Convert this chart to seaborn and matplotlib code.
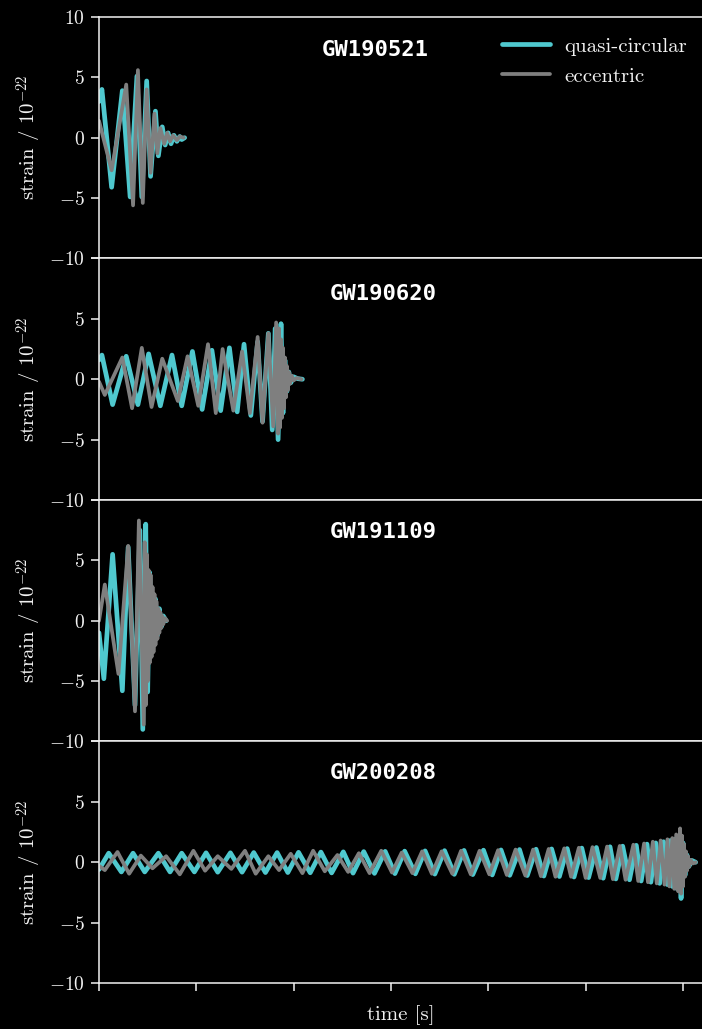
import matplotlib
matplotlib.use("Agg")
import matplotlib.pyplot as plt
import seaborn as sns
import pandas as pd

# ---------------------------------------------------------------------------
# Waveform extrema (time in ms, strain in units of 1e-22)
# ---------------------------------------------------------------------------
events = ["GW190521", "GW190620", "GW191109", "GW200208"]

gw190521_qc_t_ms = [0, 3, 13, 24, 32, 39, 44, 49, 53, 58, 61, 65, 68, 71, 74, 77, 80, 83, 85, 88]
gw190521_qc_h = [3.0, 4.0, -4.1, 3.9, -4.9, 5.1, -4.9, 4.7, -3.2, 2.2, -1.5, 0.9, -0.6, 0.4,
                 -0.5, 0.2, -0.3, 0.1, -0.15, 0.0]
gw190521_ecc_t_ms = [0, 13, 28, 35, 40, 45, 49, 53, 57, 60, 63, 67, 70, 73, 76, 80, 83, 87]
gw190521_ecc_h = [1.4, -2.7, 4.4, -5.6, 5.6, -5.4, 4.0, -2.9, 2.0, -1.3, 0.8, -0.5, 0.4, -0.3,
                  0.2, -0.2, 0.1, 0.0]

gw190620_qc_t_ms = [0, 3, 14, 28, 40, 51, 63, 75, 85, 96, 106, 116, 125, 134, 142, 149, 156,
                    163, 168, 174, 178, 181, 184, 187, 189, 191, 193, 195, 197, 200, 204, 209]
gw190620_qc_h = [1.6, 2.0, -2.1, 1.9, -2.1, 2.1, -2.2, 2.0, -2.2, 2.3, -2.5, 2.4, -2.6, 2.6,
                 -2.7, 2.9, -3.0, 3.1, -3.5, 3.8, -4.2, 4.2, -5.0, 4.6, -2.8, 1.6, -1.0, 0.6,
                 -0.3, 0.2, 0.05, 0.0]
gw190620_ecc_t_ms = [0, 6, 24, 34, 44, 54, 65, 81, 91, 102, 112, 120, 127, 138, 147, 155, 163,
                     168, 174, 179, 182, 184, 185, 186, 187, 188, 189, 190, 191, 192, 193, 194,
                     195, 196, 198, 200, 203, 208]
gw190620_ecc_h = [-0.2, -1.3, 1.8, -2.4, 2.6, -2.3, 1.7, -1.8, 1.9, -2.2, 2.9, -2.8, 2.5, -2.6,
                  2.3, -2.8, 3.5, -3.6, 3.8, -3.9, 4.7, -4.5, 4.2, -4.0, 3.3, -3.2, 2.6, -2.4,
                  1.8, -1.5, 1.1, -0.9, 0.6, -0.4, 0.3, -0.1, 0.1, 0.0]

gw191109_qc_t_ms = [0, 5, 14, 24, 30, 37, 42, 45, 48, 50, 52, 55, 58, 60, 62, 64, 66, 69]
gw191109_qc_h = [-1.0, -4.8, 5.5, -5.8, 6.1, -7.0, 7.5, -9.0, 8.0, -5.9, 4.0, -2.5, 1.8, -1.2,
                 1.0, -0.5, 0.4, 0.0]
gw191109_ecc_t_ms = [0, 6, 20, 30, 37, 41, 46, 47, 48, 49, 50, 51, 52, 53, 54, 55, 56, 57, 58,
                     59, 60, 61, 62, 63, 64, 65, 66, 68, 70]
gw191109_ecc_h = [0.0, 3.0, -4.4, 6.2, -7.5, 8.3, -8.6, 6.5, -7.0, 5.5, -5.0, 4.2, -3.5, 3.8,
                  -3.0, 2.8, -2.6, 2.2, -2.0, 1.6, -1.5, 1.0, -1.0, 0.7, -0.6, 0.4, -0.3, 0.2,
                  0.0]

gw200208_qc_t_ms = [0, 10, 23, 35, 47, 61, 73, 85, 98, 110, 122, 135, 147, 159, 171, 183, 194,
                    205, 217, 228, 239, 251, 261, 272, 283, 294, 304, 314, 325, 335, 345, 355,
                    365, 375, 384, 395, 404, 413, 422, 432, 440, 449, 457, 465, 473, 481, 488,
                    496, 503, 511, 518, 525, 531, 538, 545, 552, 557, 563, 567, 572, 576, 580,
                    584, 587, 589, 592, 594, 596, 598, 600, 602, 604, 606, 609, 613]
gw200208_qc_h = [-0.6, 0.75, -0.8, 0.75, -0.8, 0.75, -0.8, 0.75, -0.8, 0.78, -0.82, 0.78,
                 -0.82, 0.8, -0.85, 0.8, -0.85, 0.82, -0.87, 0.84, -0.88, 0.86, -0.9, 0.88,
                 -0.92, 0.9, -0.94, 0.92, -0.96, 0.94, -0.98, 0.96, -1.0, 0.98, -1.02, 1.0,
                 -1.05, 1.02, -1.08, 1.05, -1.1, 1.08, -1.14, 1.1, -1.18, 1.13, -1.22, 1.17,
                 -1.27, 1.22, -1.32, 1.28, -1.38, 1.33, -1.45, 1.4, -1.55, 1.5, -1.65, 1.6,
                 -1.75, 1.7, -1.85, 1.8, -2.0, 1.9, -2.2, 2.0, -3.0, 1.6, -1.1, 0.6, -0.35,
                 0.15, 0.0]
gw200208_ecc_t_ms = [0, 6, 19, 31, 43, 55, 69, 83, 97, 109, 122, 136, 150, 161, 174, 185, 197,
                     209, 220, 232, 245, 256, 267, 278, 290, 301, 311, 322, 332, 342, 352, 363,
                     372, 382, 391, 401, 410, 419, 428, 438, 446, 454, 462, 469, 478, 485, 493,
                     500, 507, 515, 522, 528, 535, 541, 549, 554, 560, 564, 569, 573, 577, 581,
                     584, 586, 589, 591, 593, 595, 597, 598, 599, 600, 601, 602, 603, 604, 605,
                     606, 608, 610, 613]
gw200208_ecc_h = [-0.3, -0.65, 0.85, -0.95, 0.55, -0.5, 0.5, -1.0, 0.95, -0.7, 0.5, -0.55,
                  0.95, -0.95, 0.5, -0.65, 0.7, -0.9, 0.95, -0.75, 0.6, -0.8, 0.75, -0.9, 0.95,
                  -0.85, 0.8, -0.9, 0.9, -0.95, 0.9, -0.95, 0.95, -1.0, 0.95, -1.0, 1.0, -1.05,
                  1.05, -1.1, 1.05, -1.15, 1.1, -1.2, 1.15, -1.2, 1.2, -1.3, 1.25, -1.3, 1.3,
                  -1.4, 1.35, -1.45, 1.45, -1.55, 1.55, -1.65, 1.7, -1.75, 1.8, -1.85, 1.9,
                  -2.0, 2.0, -2.2, 2.3, -2.4, 2.8, -2.6, 2.2, -2.0, 1.5, -1.2, 0.9, -0.7, 0.5,
                  -0.4, 0.2, -0.1, 0.0]

waveforms = {
    "GW190521": ((gw190521_qc_t_ms, gw190521_qc_h), (gw190521_ecc_t_ms, gw190521_ecc_h)),
    "GW190620": ((gw190620_qc_t_ms, gw190620_qc_h), (gw190620_ecc_t_ms, gw190620_ecc_h)),
    "GW191109": ((gw191109_qc_t_ms, gw191109_qc_h), (gw191109_ecc_t_ms, gw191109_ecc_h)),
    "GW200208": ((gw200208_qc_t_ms, gw200208_qc_h), (gw200208_ecc_t_ms, gw200208_ecc_h)),
}

y_ticks = [-10, -5, 0, 5, 10]
y_tick_labels = ["$-10$", "$-5$", "$0$", "$5$", "$10$"]
x_ticks = [0.0, 0.1, 0.2, 0.3, 0.4, 0.5, 0.6]
series_labels = ["quasi-circular", "eccentric"]

# ---------------------------------------------------------------------------
# Style
# ---------------------------------------------------------------------------
sns.set_theme(style="dark")
fg = "#f2f2f2"
plt.rcParams.update({
    "figure.facecolor": "black",
    "axes.facecolor": "black",
    "savefig.facecolor": "black",
    "axes.edgecolor": fg,
    "axes.labelcolor": fg,
    "text.color": fg,
    "xtick.color": fg,
    "ytick.color": fg,
    "axes.grid": False,
    "mathtext.fontset": "cm",
    "axes.unicode_minus": True,
})
plt.rcParams["font.family"] = ["cmr10", "DejaVu Serif"]

qc_color = "#4fc8ce"
ecc_color = "#7f7f7f"

fig, axes = plt.subplots(4, 1, figsize=(7.02, 10.29), dpi=100, sharex=True,
                         gridspec_kw=dict(hspace=0))
fig.subplots_adjust(left=0.141, right=1.0, top=0.9835, bottom=0.0447)

title_pos = {"GW190521": (0.4585, 0.863), "GW190620": (0.471, 0.855),
             "GW191109": (0.471, 0.868), "GW200208": (0.471, 0.868)}

for i, (ax, name) in enumerate(zip(axes, events)):
    (qt, qh), (et, eh) = waveforms[name]
    qc = pd.DataFrame({"t": [v / 1e3 for v in qt], "h": qh})
    ecc = pd.DataFrame({"t": [v / 1e3 for v in et], "h": eh})
    sns.lineplot(data=qc, x="t", y="h", ax=ax, color=qc_color, lw=3.4, sort=False,
                 estimator=None, label=series_labels[0], solid_joinstyle="round")
    sns.lineplot(data=ecc, x="t", y="h", ax=ax, color=ecc_color, lw=2.7, sort=False,
                 estimator=None, label=series_labels[1], solid_joinstyle="round")

    ax.set_ylim(-10, 10)
    ax.set_xlim(0, 0.6195)
    ax.set_yticks(y_ticks)
    labels = list(y_tick_labels)
    if i > 0:
        labels[-1] = ""
    ax.set_yticklabels(labels, fontsize=14)
    ax.set_xticks(x_ticks)
    ax.tick_params(axis="y", direction="out", length=6, width=1.1, left=True, pad=4)
    ax.tick_params(axis="x", direction="out", length=6, width=1.1, labelbottom=False,
                   bottom=(i == 3))
    for side in ("left", "bottom", "top"):
        ax.spines[side].set_visible(True)
        ax.spines[side].set_color(fg)
        ax.spines[side].set_linewidth(1.1)
    ax.spines["right"].set_visible(False)

    ax.set_ylabel(r"strain / $10^{-22}$", fontsize=15)
    ax.yaxis.set_label_coords(-0.091, 0.5)
    ax.set_xlabel("")

    tx, ty = title_pos[name]
    ax.text(tx, ty, name, transform=ax.transAxes, ha="center", va="center",
            fontsize=16, fontweight="bold", family="DejaVu Sans Mono", color="white")

    if i == 0:
        leg = ax.legend(loc="upper right", bbox_to_anchor=(1.006, 0.995), frameon=False,
                        fontsize=15, handlelength=2.3, handletextpad=0.7,
                        labelspacing=0.55)
        for t in leg.get_texts():
            t.set_color(fg)
    else:
        ax.get_legend().remove()

axes[-1].set_xlabel("time [s]", fontsize=15)
axes[-1].xaxis.set_label_coords(0.5, -0.09)

fig.savefig("out.png", dpi=100, facecolor="black")
